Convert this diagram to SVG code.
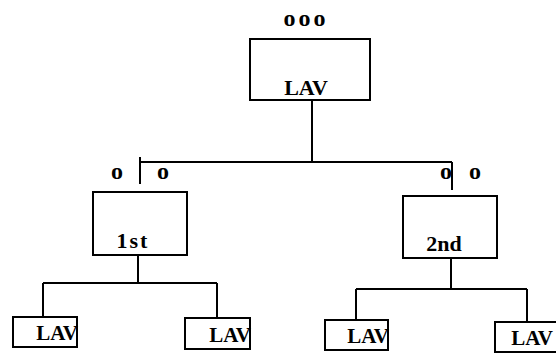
<svg xmlns="http://www.w3.org/2000/svg" width="556" height="354" viewBox="0 0 556 354">
<style>
.b{fill:none;stroke:#000;stroke-width:2}
.c{fill:none;stroke:#000;stroke-width:2}
text{font-family:"Liberation Serif",serif;font-weight:bold;fill:#000;text-anchor:middle}
.t{font-size:22px}
.s{font-size:21px;text-anchor:end}
.o{font-size:24px}
</style>
<rect width="556" height="354" fill="#fff"/>
<g id="connectors">
<path class="c" d="M312 100V162M140 162H452M140 157V184M452 162V190"/>
<path class="c" d="M138 255V283M43 283H217M43 283V317M217 283V318"/>
<path class="c" d="M451 258V289M356 289H527M356 289V320M527 289V322"/>
</g>
<g id="top"><text class="o" x="306" y="26" letter-spacing="3">ooo</text>
<rect class="b" x="250" y="39" width="120" height="61"/><text class="t" x="306" y="95">LAV</text></g>
<g id="labels-o"><text class="o" x="117" y="179">o</text><text class="o" x="163" y="179">o</text><text class="o" x="446" y="179">o</text><text class="o" x="475" y="179">o</text></g>
<g id="first"><rect class="b" x="93" y="192" width="94" height="63"/><text class="t" x="133" y="248" letter-spacing="2">1st</text></g>
<g id="second"><rect class="b" x="403" y="196" width="94" height="62"/><text class="t" x="444" y="251">2nd</text></g>
<g id="l1"><rect class="b" x="13" y="317" width="64" height="30"/><text class="s" x="78" y="340">LAV</text></g>
<g id="l2"><rect class="b" x="185" y="318" width="65" height="31"/><text class="s" x="251" y="342">LAV</text></g>
<g id="l3"><rect class="b" x="325" y="320" width="63" height="30"/><text class="s" x="389" y="343">LAV</text></g>
<g id="l4"><rect class="b" x="495" y="322" width="65" height="30"/><text class="s" x="553" y="345">LAV</text></g>
</svg>
